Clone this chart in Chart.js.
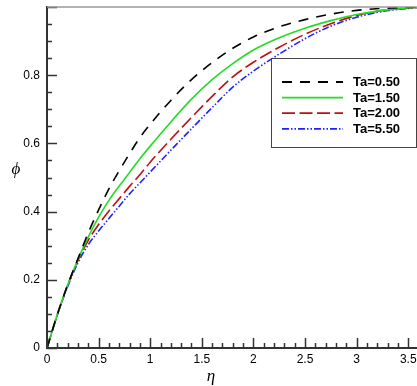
<!DOCTYPE html>
<html>
<head>
<meta charset="utf-8">
<script src="https://cdn.jsdelivr.net/npm/chart.js@4/dist/chart.umd.min.js"></script>
<style>
  body { margin: 0; background: #fff; }
  canvas { display: block; }
</style>
</head>
<body>
<canvas id="phiChart" width="417" height="386"></canvas>
<script>
// values
const eta = [0, 0.1, 0.2, 0.3, 0.4, 0.5, 0.6, 0.7, 0.8, 0.9, 1.0, 1.2, 1.4, 1.6, 1.8, 2.0, 2.25, 2.5, 2.75, 3.0, 3.25, 3.5, 3.6];
const phiTa050 = [0, 0.098, 0.185, 0.262, 0.338, 0.405, 0.467, 0.52, 0.57, 0.617, 0.656, 0.726, 0.787, 0.837, 0.879, 0.912, 0.942, 0.963, 0.979, 0.99, 0.996, 0.999, 1.0];
const phiTa150 = [0, 0.098, 0.185, 0.26, 0.326, 0.384, 0.433, 0.475, 0.515, 0.555, 0.592, 0.663, 0.73, 0.787, 0.834, 0.874, 0.91, 0.938, 0.96, 0.978, 0.99, 0.997, 0.999];
const phiTa200 = [0, 0.098, 0.184, 0.257, 0.316, 0.362, 0.402, 0.438, 0.474, 0.508, 0.545, 0.612, 0.676, 0.738, 0.795, 0.838, 0.882, 0.92, 0.951, 0.975, 0.99, 0.997, 0.999];
const phiTa550 = [0, 0.097, 0.18, 0.25, 0.303, 0.343, 0.38, 0.416, 0.452, 0.484, 0.516, 0.58, 0.643, 0.705, 0.765, 0.812, 0.862, 0.907, 0.944, 0.97, 0.987, 0.996, 0.999];
const seriesLabels = ['Ta=0.50', 'Ta=1.50', 'Ta=2.00', 'Ta=5.50'];
const xTicks = [0, 0.5, 1, 1.5, 2, 2.5, 3, 3.5];
const yTicks = [0, 0.2, 0.4, 0.6, 0.8];

const colors = ['#000000', '#22dd22', '#bb1111', '#2222ff'];
const dashes = [[10, 8], [], [13, 4.5], [7, 2, 1.5, 2, 1.5, 2]];

const toPoints = (ys) => ys.map((y, i) => ({ x: eta[i], y: y }));
const series = [phiTa050, phiTa150, phiTa200, phiTa550];

const tickFont = { family: 'Arial, "Liberation Sans", sans-serif', size: 12 };

// inward ticks, top frame line, axis symbols and the boxed legend
const decorations = {
    id: 'decorations',
    afterDatasetsDraw(chart) {
        const { ctx, chartArea: a, scales } = chart;
        ctx.save();
        ctx.strokeStyle = '#333';
        ctx.lineWidth = 1.5;
        ctx.beginPath();
        for (let i = 0; i <= 20; i++) {
            const y = Math.round(scales.y.getPixelForValue(i * 0.05)) + 0.5;
            const len = i % 4 === 0 ? 10 : 5;
            ctx.moveTo(a.left, y);
            ctx.lineTo(a.left + len, y);
        }
        for (let i = 0; i <= 35; i++) {
            const x = Math.round(scales.x.getPixelForValue(i * 0.1)) + 0.5;
            const len = i % 5 === 0 ? 10 : 5;
            ctx.moveTo(x, a.bottom);
            ctx.lineTo(x, a.bottom - len);
        }
        ctx.stroke();

        // top frame
        ctx.strokeStyle = '#999';
        ctx.lineWidth = 1.5;
        ctx.beginPath();
        ctx.moveTo(a.left, a.top);
        ctx.lineTo(a.right, a.top);
        ctx.stroke();

        // axis symbols
        ctx.fillStyle = '#000';
        ctx.font = 'italic 17px "Liberation Serif", "DejaVu Serif", serif';
        ctx.textAlign = 'center';
        ctx.textBaseline = 'middle';
        ctx.fillText('\u03d5', 16, 170);
        ctx.fillText('\u03b7', 211, 377);

        // legend
        const bx = 271.5, by = 58.5, bw = 145, bh = 89;
        ctx.fillStyle = '#fff';
        ctx.fillRect(bx, by, bw, bh);
        ctx.strokeStyle = '#444';
        ctx.lineWidth = 1;
        ctx.strokeRect(bx, by, bw, bh);
        ctx.font = 'bold 13px Arial, "Liberation Sans", sans-serif';
        ctx.textAlign = 'left';
        seriesLabels.forEach((label, i) => {
            const y = 82 + i * 15.6;
            ctx.strokeStyle = colors[i];
            ctx.lineWidth = 1.8;
            ctx.setLineDash(dashes[i]);
            ctx.beginPath();
            ctx.moveTo(282, y);
            ctx.lineTo(343, y);
            ctx.stroke();
            ctx.setLineDash([]);
            ctx.fillStyle = '#000';
            ctx.fillText(label, 353, y + 0.5);
        });
        ctx.restore();
    }
};

new Chart(document.getElementById('phiChart').getContext('2d'), {
    type: 'line',
    data: {
        datasets: series.map((ys, i) => ({
            label: seriesLabels[i],
            data: toPoints(ys),
            borderColor: colors[i],
            borderWidth: 1.6,
            borderDash: dashes[i],
            pointRadius: 0,
            fill: false,
            cubicInterpolationMode: 'monotone'
        }))
    },
    options: {
        responsive: false,
        animation: false,
        devicePixelRatio: 1,
        layout: { padding: { top: 7, right: 0, bottom: 0, left: 0 } },
        plugins: {
            legend: { display: false },
            tooltip: { enabled: false }
        },
        scales: {
            x: {
                type: 'linear',
                min: 0,
                max: 3.585,
                grid: { display: false, drawTicks: false },
                border: { display: true, color: '#333', width: 2 },
                afterBuildTicks: (scale) => { scale.ticks = xTicks.map(v => ({ value: v })); },
                afterFit: (scale) => {
                    scale.height = 38;
                    scale.paddingLeft = 0;
                    scale.paddingRight = 0;
                },
                ticks: {
                    color: '#000',
                    font: tickFont,
                    padding: 4,
                    maxRotation: 0,
                    callback: (v) => String(v)
                }
            },
            y: {
                min: 0,
                max: 1,
                grid: { display: false, drawTicks: false },
                border: { display: true, color: '#333', width: 2 },
                afterBuildTicks: (scale) => { scale.ticks = yTicks.map(v => ({ value: v })); },
                afterFit: (scale) => {
                    scale.width = 47;
                    scale.paddingTop = 0;
                    scale.paddingBottom = 0;
                },
                ticks: {
                    color: '#000',
                    font: tickFont,
                    padding: 7,
                    callback: (v) => String(v)
                }
            }
        }
    },
    plugins: [decorations]
});
</script>
</body>
</html>
